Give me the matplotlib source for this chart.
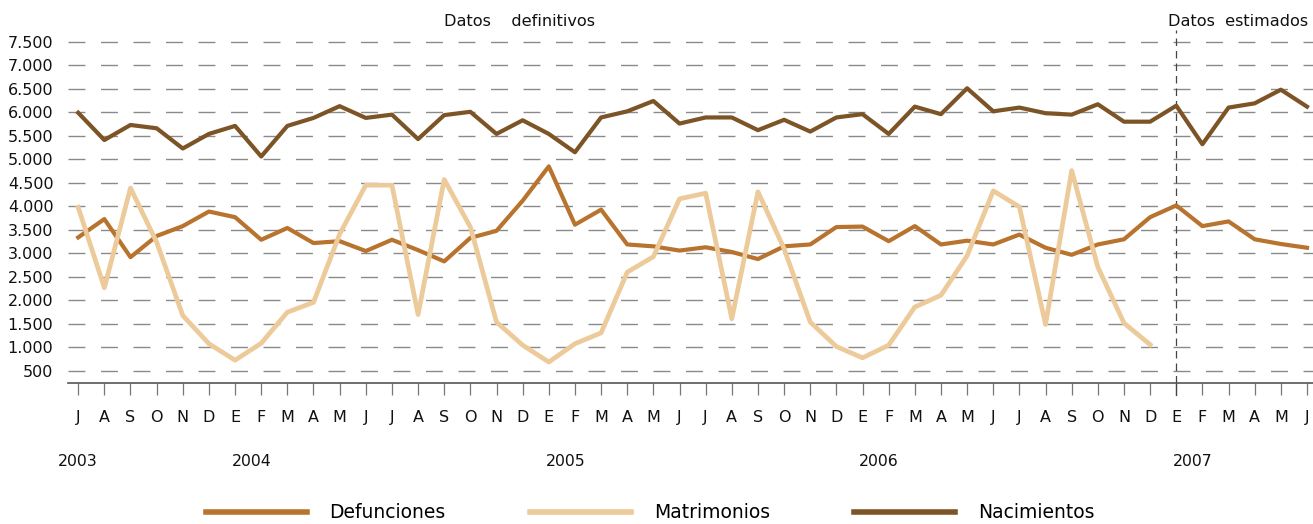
import numpy as np
import matplotlib
matplotlib.use('Agg')
import matplotlib.pyplot as plt
from matplotlib.transforms import blended_transform_factory

# ---------------- data ----------------
month_labels = ['J', 'A', 'S', 'O', 'N', 'D', 'E', 'F', 'M', 'A', 'M', 'J'] * 4
year_labels = ['2003', '2004', '2005', '2006', '2007']

defunciones = [3340, 3730, 2920, 3370, 3580, 3890, 3770, 3290, 3540, 3220, 3260, 3050,
               3290, 3070, 2830, 3330, 3480, 4120, 4850, 3610, 3930, 3190, 3150, 3060,
               3130, 3030, 2880, 3150, 3190, 3560, 3570, 3260, 3580, 3190, 3270, 3190,
               3400, 3120, 2970, 3190, 3300, 3770, 4020, 3580, 3680, 3300, 3200, 3120]

matrimonios = [3980, 2270, 4390, 3240, 1680, 1080, 730, 1090, 1750, 1960, 3410, 4450,
               4450, 1700, 4570, 3560, 1540, 1050, 690, 1080, 1310, 2600, 2930, 4160,
               4280, 1610, 4310, 3100, 1540, 1020, 780, 1050, 1860, 2110, 2950, 4330,
               3990, 1490, 4760, 2710, 1520, 1060, np.nan, np.nan, np.nan, np.nan, np.nan, np.nan]

nacimientos = [5990, 5410, 5730, 5660, 5230, 5540, 5710, 5060, 5710, 5880, 6130, 5880,
               5950, 5430, 5940, 6010, 5540, 5830, 5540, 5150, 5890, 6020, 6240, 5760,
               5890, 5890, 5620, 5840, 5590, 5890, 5960, 5540, 6120, 5960, 6510, 6020,
               6100, 5980, 5950, 6170, 5800, 5800, 6140, 5320, 6100, 6190, 6480, 6120]

y_ticks = list(range(500, 7501, 500))

# ---------------- style ----------------
c_def = '#B8732F'
c_mat = '#EDCA9A'
c_nac = '#7C5426'

plt.rcParams['font.family'] = ['DejaVu Sans']

W, H = 1313, 524
fig = plt.figure(figsize=(W / 100, H / 100), dpi=100)
ax = fig.add_axes([68 / W, 1 - 383 / H, (W - 68) / W, (383 - 30) / H])

x = np.arange(len(month_labels))
ax.plot(x, defunciones, color=c_def, lw=3, label='Defunciones', zorder=3)
ax.plot(x, matrimonios, color=c_mat, lw=3.4, label='Matrimonios', zorder=4)
ax.plot(x, nacimientos, color=c_nac, lw=3, label='Nacimientos', zorder=5)

ax.set_xlim(-0.39, 47.23)
ax.set_ylim(245, 7749)

ax.set_yticks(y_ticks)
ax.set_yticklabels([f'{v:,}'.replace(',', '.') for v in y_ticks])
ax.tick_params(axis='y', length=0, pad=10.5, labelsize=11.5, labelcolor='#111111')
ax.yaxis.grid(True, color='#8a8a8a', lw=1, linestyle=(0, (12.2, 11.2)))
ax.set_axisbelow(True)

ax.set_xticks(x)
ax.set_xticklabels(month_labels)
ax.tick_params(axis='x', direction='out', length=8.6, width=0.9, color='#777777',
               pad=11, labelsize=11.5, labelcolor='#111111')

for s in ['left', 'top', 'right']:
    ax.spines[s].set_visible(False)
ax.spines['bottom'].set_color('#555555')
ax.spines['bottom'].set_linewidth(1.2)

# separation between definitive and estimated data (January 2007)
sep = month_labels.index('E', 36)
ax.axvline(sep, ymin=0, ymax=1, color='#444444', lw=0.9, linestyle=(0, (6, 4)), zorder=2)
ax.plot([sep, sep], [0, -0.034], transform=blended_transform_factory(ax.transData, ax.transAxes),
        color='#444444', lw=0.9, clip_on=False)

# year labels
tr = blended_transform_factory(ax.transData, fig.transFigure)
jan_idx = [i for i, m in enumerate(month_labels) if m == 'E']
ax.text(0, 1 - 461 / H, year_labels[0], transform=tr, ha='center', va='center', fontsize=11.3, color='#111111')
for lab, i in zip(year_labels[1:], jan_idx):
    ax.text(i - 0.13, 1 - 461 / H, lab, transform=tr, ha='left', va='center', fontsize=11.3, color='#111111')

# headers
fig.text(444 / W, 1 - 22 / H, 'Datos    definitivos', ha='left', va='center', fontsize=11.6, color='#111111')
fig.text(1168 / W, 1 - 22 / H, 'Datos  estimados', ha='left', va='center', fontsize=11.6, color='#111111')

fig.legend(loc='center', bbox_to_anchor=(650 / W, 1 - 513 / H), ncol=3, frameon=False,
           handlelength=5.4, handletextpad=1.2, columnspacing=4.5, fontsize=13.5)
leg = fig.legends[0]
for h in leg.legend_handles:
    h.set_linewidth(4)

fig.savefig('out.png', dpi=100)
